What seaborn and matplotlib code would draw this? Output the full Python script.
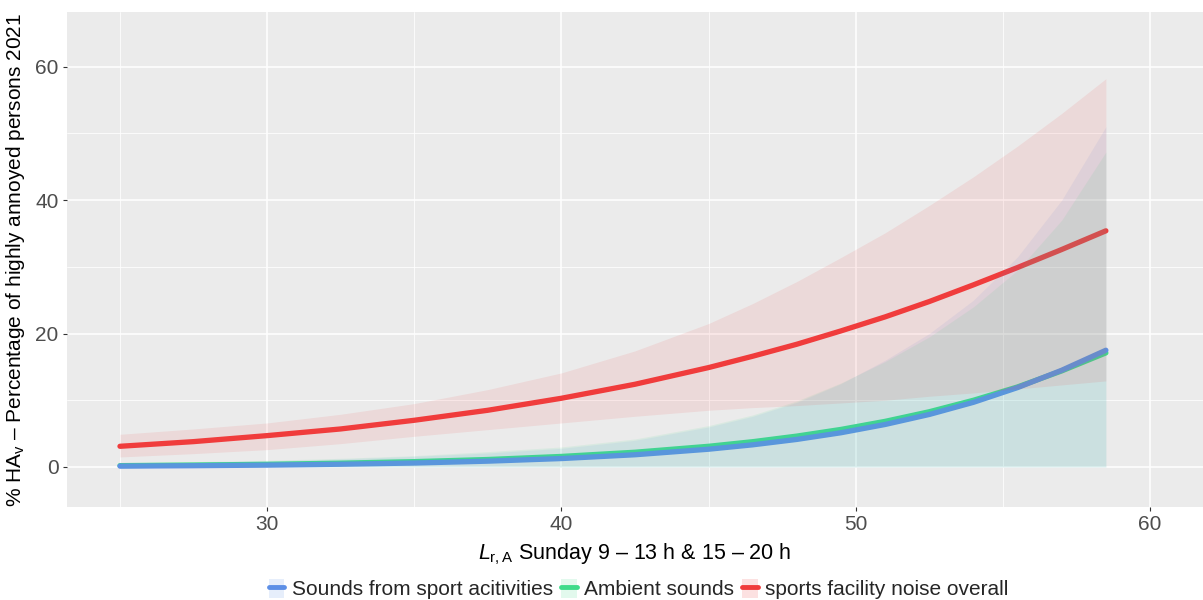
import numpy as np
import pandas as pd
import matplotlib
matplotlib.use("Agg")
import matplotlib.pyplot as plt
import seaborn as sns
from matplotlib.lines import Line2D
from matplotlib.patches import Patch
from matplotlib.legend_handler import HandlerTuple

# ---- data ----
level = [25, 27.5, 30, 32.5, 35, 37.5, 40, 42.5, 45, 46.5, 48, 49.5, 51, 52.5, 54, 55.5, 57, 58.5]

sport_mean = [0.13, 0.19, 0.28, 0.41, 0.59, 0.87, 1.26, 1.83, 2.66, 3.32, 4.13, 5.13, 6.37, 7.87, 9.69, 11.9, 14.5, 17.5]
sport_low = [0] * 18
sport_high = [0.5, 0.7, 0.9, 1.2, 1.6, 2.1, 2.8, 4.0, 6.0, 7.6, 9.7, 12.5, 16.0, 20.0, 25.0, 31.5, 40.0, 51.0]

ambient_mean = [0.20, 0.29, 0.40, 0.57, 0.80, 1.12, 1.58, 2.21, 3.10, 3.79, 4.63, 5.63, 6.84, 8.28, 10.0, 12.0, 14.4, 17.1]
ambient_low = [0] * 18
ambient_high = [0.6, 0.8, 1.0, 1.3, 1.7, 2.3, 3.0, 4.2, 6.2, 7.8, 9.9, 12.6, 15.8, 19.5, 24.0, 29.5, 37.0, 47.2]

overall_mean = [3.1, 3.8, 4.7, 5.7, 7.0, 8.5, 10.3, 12.4, 14.9, 16.6, 18.4, 20.4, 22.5, 24.8, 27.3, 29.9, 32.6, 35.4]
overall_low = [1.5, 2.0, 2.6, 3.5, 4.6, 5.6, 6.6, 7.6, 8.5, 8.9, 9.2, 9.6, 10.0, 10.6, 11.1, 11.7, 12.3, 12.9]
overall_high = [4.9, 5.7, 6.6, 7.9, 9.5, 11.6, 14.1, 17.4, 21.5, 24.5, 27.8, 31.4, 35.1, 39.2, 43.5, 48.1, 53.0, 58.2]

series_names = ["Sounds from sport acitivities", "Ambient sounds", "sports facility noise overall"]
colors = ["#5D8FE6", "#3EDB8A", "#F03C3C"]

x_ticks = [30, 40, 50, 60]
y_ticks = [0, 20, 40, 60]

# ---- styling ----
sns.set_theme(style="darkgrid", rc={
    "axes.facecolor": "#EBEBEB",
    "grid.color": "white",
    "axes.edgecolor": "#EBEBEB",
})
plt.rcParams["font.family"] = ["Liberation Sans", "DejaVu Sans"]
plt.rcParams["mathtext.fontset"] = "custom"
plt.rcParams["mathtext.rm"] = "Liberation Sans"
plt.rcParams["mathtext.it"] = "Liberation Sans:italic"

df = pd.concat([
    pd.DataFrame({"level": level, "pct": sport_mean, "source": series_names[0]}),
    pd.DataFrame({"level": level, "pct": ambient_mean, "source": series_names[1]}),
    pd.DataFrame({"level": level, "pct": overall_mean, "source": series_names[2]}),
], ignore_index=True)

fig = plt.figure(figsize=(12.03, 6.0), dpi=100)
ax = fig.add_axes([67 / 1203, 1 - 507 / 600, 1 - 67 / 1203, (507 - 12) / 600])

palette = dict(zip(series_names, colors))
draw_order = [series_names[1], series_names[0], series_names[2]]
for name in draw_order:
    sns.lineplot(data=df[df["source"] == name], x="level", y="pct", color=palette[name],
                 linewidth=3.8, ax=ax, zorder=3, legend=False)

bands = [(sport_low, sport_high), (ambient_low, ambient_high), (overall_low, overall_high)]
for (lo, hi), c in zip(bands, colors):
    ax.fill_between(level, lo, hi, color=c, alpha=0.1, linewidth=0, zorder=4)

ax.set_xlim(23.2, 61.8)
ax.set_ylim(-6.0, 68.2)
ax.set_xticks(x_ticks)
ax.set_yticks(y_ticks)
ax.set_xticks([25, 35, 45, 55], minor=True)
ax.set_yticks([10, 30, 50], minor=True)
ax.grid(which="major", color="white", linewidth=1.1)
ax.grid(which="minor", color="white", linewidth=0.55)
ax.tick_params(axis="both", which="major", labelsize=15, labelcolor="#4D4D4D",
               color="#333333", length=3, width=0.8, direction="out", pad=3,
               bottom=True, left=True)
ax.tick_params(which="minor", length=0)
for s in ax.spines.values():
    s.set_visible(False)

ax.set_xlabel(r"$L_{\mathrm{r,A}}$ Sunday 9 – 13 h & 15 – 20 h", fontsize=15.5, color="black", labelpad=5)
ax.set_ylabel(r"% HA$_{\mathrm{v}}$ – Percentage of highly annoyed persons 2021", fontsize=15,
              color="black", labelpad=6)

handles = []
for c in colors:
    handles.append((Patch(facecolor=c, alpha=0.15, edgecolor="none"),
                    Line2D([0], [0], color=c, linewidth=3.5)))
fig.legend(handles, series_names, loc="center", bbox_to_anchor=(0.531, 0.018), ncol=3,
           frameon=False, fontsize=15, handler_map={tuple: HandlerTuple(ndivide=1, pad=0)},
           handlelength=0.75, handleheight=1.0, handletextpad=0.35, columnspacing=0.4)

fig.savefig("out.png", dpi=100)
